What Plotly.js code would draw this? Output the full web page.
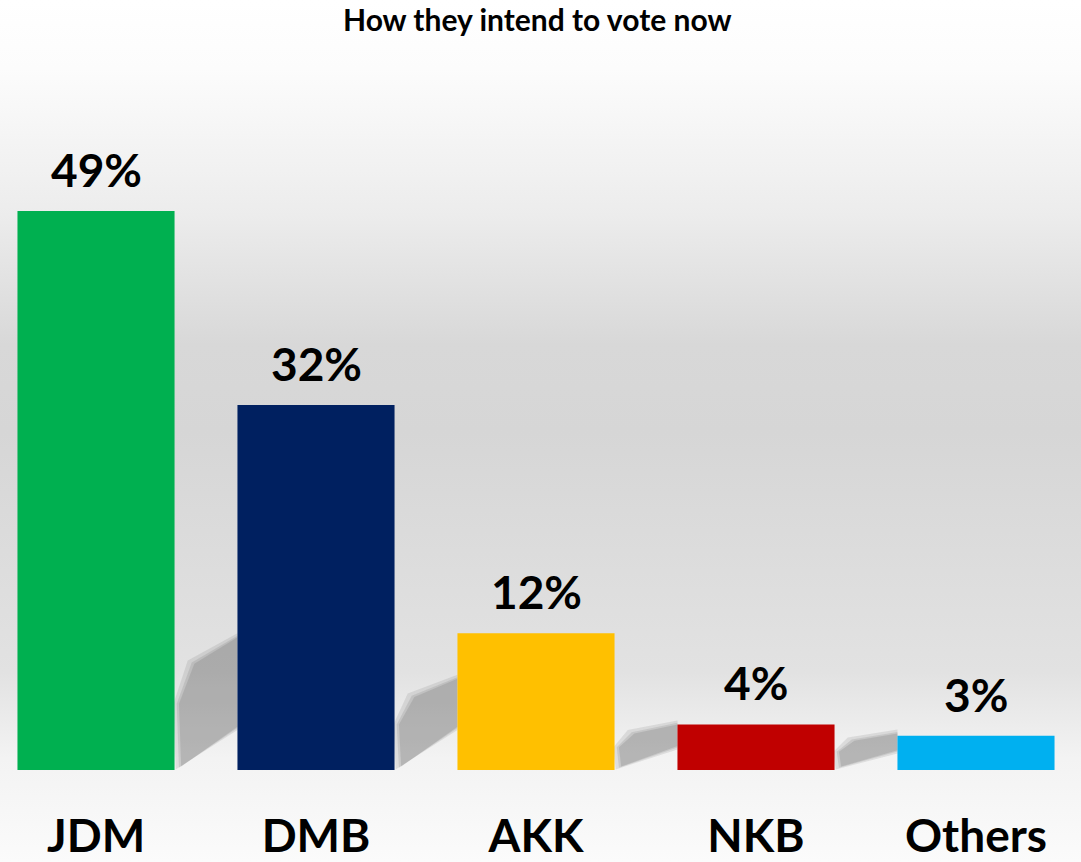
<!DOCTYPE html>
<html>
<head>
<meta charset="utf-8">
<script src="https://cdn.plot.ly/plotly-3.0.1.min.js"></script>
<style>
  html, body { margin: 0; padding: 0; }
  #chart {
    width: 1081px; height: 862px;
    background: linear-gradient(to bottom, #ffffff 0%, #fcfcfc 8%, #ececec 25%, #d8d8d8 40%, #d6d6d6 50%, #e2e2e2 78%, #f3f3f3 88%, #fbfbfb 100%);
  }
</style>
</head>
<body>
<div id="chart"></div>
<script>
const categories = ["JDM", "DMB", "AKK", "NKB", "Others"];
const values = [49, 32, 12, 4, 3];
const valueLabels = ["49%", "32%", "12%", "4%", "3%"];
const barColors = ["#00B050", "#002060", "#FFC000", "#C00000", "#00B0F0"];
const chartTitle = "How they intend to vote now";

const FONT = "Lato, 'Open Sans', sans-serif";
const BARGAP = 0.286;

const trace = {
  type: "bar",
  x: categories,
  y: values,
  marker: { color: barColors, line: { width: 0 } },
  hoverinfo: "skip"
};

const annotations = categories.map((c, i) => ({
  x: c, y: values[i], xref: "x", yref: "y",
  text: valueLabels[i], showarrow: false,
  yanchor: "bottom", yshift: 12,
  font: { family: FONT, size: 46, color: "#000", weight: "bold" }
}));

// soft perspective shadows cast to the left of each bar (derived from the data)
const shapes = [];
values.forEach((v, i) => {
  if (i === 0) return;                     // first bar's shadow falls outside the picture
  const hs = 16 * v / (v + 12);           // shadow height in data units
  const bl = i - (1 - BARGAP) / 2;        // bar left edge (category units)
  const gl = bl - BARGAP;                  // left end of the visible gap
  const rise = Math.min(3.5, hs * 0.45);
  const layers = [
    { grow: 1.0, op: 0.16 },
    { grow: 0.4, op: 0.18 },
    { grow: 0.0, op: 0.22 }
  ];
  layers.forEach(L => {
    const g = L.grow;
    const pts = [
      [gl + 0.03 - g * 0.025, 0.3 - g * 0.25],
      [bl, 0.3 + rise - g * 0.3],
      [bl, hs + g * 0.35],
      [gl + 0.09 - g * 0.03, hs * 0.8 + g * 0.3],
      [gl + 0.02 - g * 0.025, hs * 0.5]
    ];
    shapes.push({
      type: "path", xref: "x", yref: "y", layer: "below",
      path: "M" + pts.map(p => p[0] + "," + Math.max(0, p[1])).join(" L") + " Z",
      fillcolor: "rgba(110,110,110," + L.op + ")",
      line: { width: 0 }
    });
  });
});

const layout = {
  width: 1081, height: 862,
  margin: { l: 0, r: 0, t: 40, b: 92, pad: 0 },
  paper_bgcolor: "rgba(0,0,0,0)",
  plot_bgcolor: "rgba(0,0,0,0)",
  showlegend: false,
  bargap: BARGAP,
  title: {
    text: "<b>" + chartTitle + "</b>",
    x: 0.497, xanchor: "center",
    y: 1 - 20 / 862, yanchor: "middle", yref: "container",
    font: { family: FONT, size: 30, color: "#000" }
  },
  xaxis: {
    type: "category",
    range: [-0.4364, 4.4773],
    showgrid: false, zeroline: false, showline: false,
    ticks: "", ticklabelstandoff: 35,
    tickfont: { family: FONT, size: 46, color: "#000", weight: "bold" }
  },
  yaxis: {
    range: [0, 64],
    showgrid: false, zeroline: false, showline: false,
    showticklabels: false, ticks: ""
  },
  shapes: shapes,
  annotations: annotations
};

Plotly.newPlot("chart", [trace], layout, { displayModeBar: false, staticPlot: true });
</script>
</body>
</html>
